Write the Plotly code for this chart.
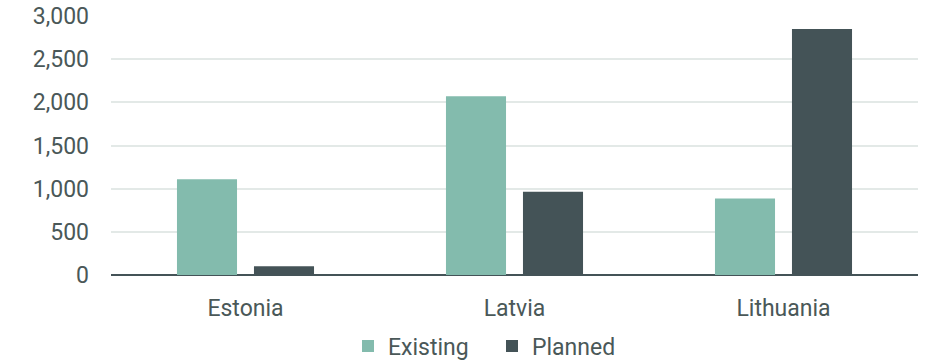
import plotly.graph_objects as go

countries = ["Estonia", "Latvia", "Lithuania"]
existing = [1110, 2070, 885]
planned = [100, 965, 2850]
y_ticks = [0, 500, 1000, 1500, 2000, 2500, 3000]
y_tick_labels = ["0", "500", "1,000", "1,500", "2,000", "2,500", "3,000"]

text_color = "#4a5858"
fig = go.Figure()
fig.add_trace(go.Bar(name="Existing", x=countries, y=existing,
                     marker=dict(color="#83bbad", line=dict(width=0))))
fig.add_trace(go.Bar(name="Planned", x=countries, y=planned,
                     marker=dict(color="#445357", line=dict(width=0))))

fig.update_layout(
    width=930, height=362,
    margin=dict(l=111, r=12, t=16, b=86.5, autoexpand=False),
    paper_bgcolor="white", plot_bgcolor="white",
    barmode="group", bargap=0.4275, bargroupgap=0.22,
    font=dict(family="Roboto", size=23, color=text_color),
    showlegend=True,
    legend=dict(orientation="h", xref="container", yref="container",
                x=348 / 930, xanchor="left", y=16 / 362, yanchor="middle",
                font=dict(size=23, color=text_color), itemwidth=30,
                entrywidth=99, entrywidthmode="pixels",
                traceorder="normal"),
    xaxis=dict(showgrid=False, ticks="", ticklabelstandoff=17,
               showline=False, zeroline=False),
    yaxis=dict(range=[0, 3000], tickvals=y_ticks, ticktext=y_tick_labels,
               showgrid=True, gridcolor="#e3e9e7", gridwidth=2,
               zeroline=True, zerolinecolor="#445357", zerolinewidth=2,
               ticks="", ticklabelstandoff=21, showline=False),
)
fig.write_html("out.html")
